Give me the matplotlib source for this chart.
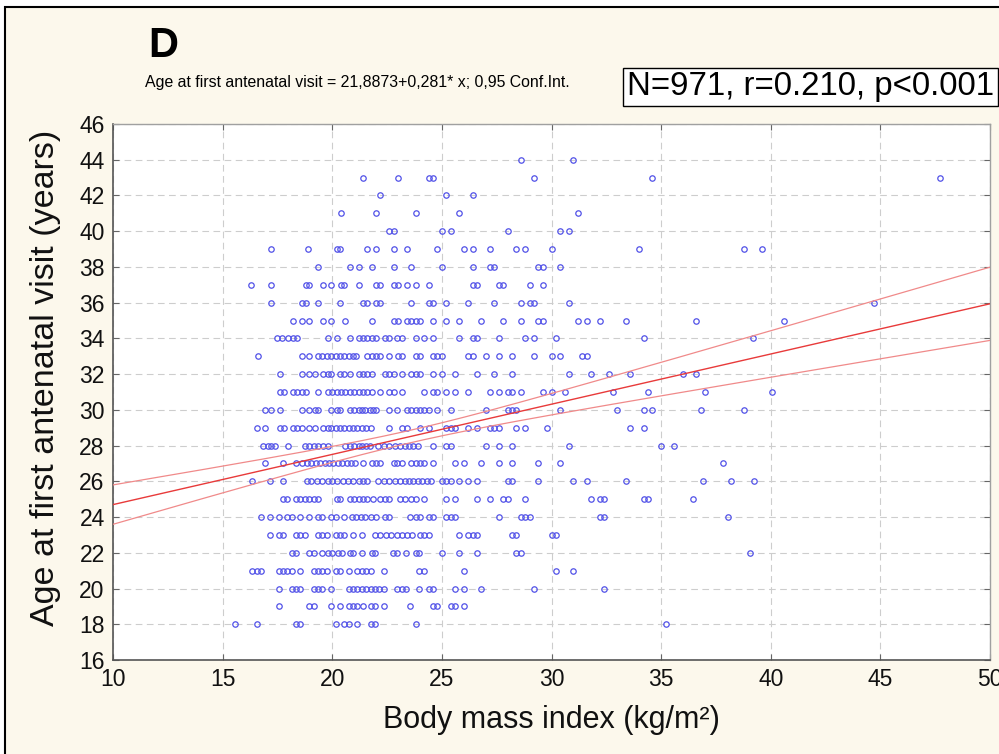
import numpy as np
import matplotlib
matplotlib.use("Agg")
import matplotlib.pyplot as plt
from matplotlib import font_manager
from matplotlib.patches import Rectangle

# ---------------- data ----------------
bmi_age18 = [15.55, 16.55, 18.35, 18.55, 20.15, 20.55, 20.75, 21.15, 21.75, 21.95, 23.8, 35.2]
bmi_age19 = [17.55, 18.95, 19.15, 19.95, 20.35, 20.75, 20.95, 21.15, 21.4, 21.75, 21.95, 22.35, 23.55,
             24.6, 24.8, 25.4, 25.6, 26.0]
bmi_age20 = [17.55, 18.15, 18.35, 18.55, 19.15, 19.35, 19.55, 19.95, 20.75, 20.95, 21.15, 21.35, 21.55,
             21.75, 21.95, 22.15, 22.35, 22.95, 23.2, 23.35, 23.95, 24.4, 24.6, 25.6, 26.0, 26.8, 29.2, 32.4]
bmi_age21 = [16.35, 16.55, 16.75, 17.55, 17.75, 17.95, 18.15, 18.55, 19.15, 19.35, 19.55, 19.75, 20.15,
             20.35, 20.75, 21.15, 21.35, 21.55, 21.75, 22.35, 23.95, 24.2, 26.0, 30.2, 31.0]
bmi_age22 = [18.15, 18.35, 18.95, 19.15, 19.55, 19.8, 20.0, 20.25, 20.45, 20.8, 20.95, 21.35, 21.8, 21.95,
             22.75, 22.95, 23.35, 23.8, 23.95, 25.0, 25.8, 26.6, 28.4, 28.6, 39.05]
bmi_age23 = [17.15, 17.55, 17.75, 18.35, 18.55, 18.75, 19.35, 19.55, 19.75, 20.15, 20.35, 20.55, 20.95,
             21.35, 21.95, 22.2, 22.45, 22.7, 22.95, 23.2, 23.4, 23.65, 24.0, 24.2, 24.4, 25.8, 26.2, 26.4,
             26.6, 28.2, 28.4, 30.0, 30.2]
bmi_age24 = [16.75, 17.15, 17.55, 17.95, 18.15, 18.55, 18.95, 19.35, 19.55, 19.95, 20.15, 20.55, 20.9,
             21.1, 21.3, 21.5, 21.75, 22.0, 22.4, 22.6, 23.55, 23.8, 24.0, 24.4, 24.6, 25.2, 25.4, 25.6,
             27.6, 28.6, 28.8, 29.0, 32.2, 32.4, 38.05]
bmi_age25 = [17.75, 17.95, 18.35, 18.55, 18.75, 18.95, 19.15, 19.35, 20.2, 20.35, 20.8, 21.0, 21.2, 21.4,
             21.6, 21.85, 22.2, 22.4, 22.6, 23.1, 23.3, 23.6, 23.8, 24.2, 25.2, 25.6, 26.6, 27.2, 27.8,
             28.0, 28.8, 31.8, 32.2, 32.4, 34.2, 34.4, 36.45]
bmi_age26 = [16.35, 17.15, 17.75, 18.85, 19.05, 19.3, 19.55, 19.8, 20.0, 20.2, 20.5, 20.7, 20.95, 21.2,
             21.4, 21.6, 22.1, 22.35, 22.6, 22.85, 23.1, 23.3, 23.5, 23.7, 23.9, 24.1, 24.3, 24.5, 25.0,
             25.2, 25.4, 25.8, 26.2, 26.6, 28.0, 28.2, 29.4, 31.0, 31.6, 33.4, 36.9, 38.2, 39.25]
bmi_age27 = [16.95, 17.75, 18.35, 18.6, 18.85, 19.05, 19.25, 19.45, 19.65, 19.85, 20.05, 20.25, 20.45,
             20.65, 20.85, 21.05, 21.4, 21.8, 22.0, 22.2, 22.8, 22.95, 23.2, 23.6, 23.8, 24.0, 24.2, 24.6,
             25.6, 26.0, 26.8, 27.6, 28.2, 29.4, 30.4, 37.8]
bmi_age28 = [16.85, 17.05, 17.2, 17.4, 18.0, 18.75, 18.95, 19.15, 19.35, 19.6, 19.8, 20.6, 20.8, 21.0,
             21.2, 21.35, 21.55, 21.7, 22.1, 22.35, 22.6, 22.85, 23.1, 23.3, 23.5, 23.7, 23.9, 24.6, 25.2,
             25.4, 27.0, 27.6, 28.2, 30.8, 35.0, 35.6]
bmi_age29 = [16.55, 16.95, 17.6, 17.8, 18.2, 18.4, 18.6, 18.95, 19.2, 19.6, 19.8, 19.95, 20.15, 20.35,
             20.55, 20.75, 20.95, 21.15, 21.35, 21.55, 21.75, 22.6, 23.2, 23.4, 24.0, 24.4, 25.2, 25.4,
             25.6, 26.2, 26.6, 27.2, 27.4, 27.6, 28.4, 28.8, 29.8, 33.6, 34.2]
bmi_age30 = [16.95, 17.2, 17.6, 18.6, 18.95, 19.2, 19.35, 19.95, 20.2, 20.35, 20.8, 21.0, 21.2, 21.35,
             21.5, 21.7, 21.85, 22.0, 22.6, 22.95, 23.4, 23.6, 23.8, 24.0, 24.2, 24.4, 24.8, 25.4, 27.0,
             28.0, 28.2, 28.4, 30.4, 33.0, 34.2, 34.6, 36.8, 38.8]
bmi_age31 = [17.6, 17.8, 18.2, 18.4, 18.6, 18.8, 19.35, 19.8, 20.0, 20.2, 20.4, 20.6, 20.8, 21.0, 21.2,
             21.4, 21.6, 21.8, 22.2, 22.6, 22.8, 23.2, 24.2, 24.6, 24.8, 25.2, 25.6, 26.2, 27.2, 27.6,
             28.0, 28.2, 28.6, 29.6, 30.0, 30.6, 32.8, 34.4, 37.0, 40.05]
bmi_age32 = [17.6, 18.6, 18.95, 19.2, 19.6, 19.8, 19.95, 20.35, 20.55, 20.8, 21.2, 21.4, 21.6, 21.8, 22.4,
             22.6, 22.8, 23.2, 23.6, 23.8, 24.0, 24.6, 25.0, 25.6, 26.6, 27.4, 28.2, 30.8, 31.8, 32.6,
             33.6, 36.0, 36.6]
bmi_age33 = [16.6, 18.6, 18.95, 19.35, 19.55, 19.75, 19.95, 20.15, 20.35, 20.55, 20.75, 20.95, 21.1, 21.6,
             21.8, 22.0, 22.2, 22.6, 23.0, 23.2, 23.8, 24.0, 24.6, 24.8, 25.0, 26.2, 26.4, 27.0, 27.6,
             28.2, 29.2, 30.0, 30.4, 31.4, 31.6]
bmi_age34 = [17.5, 17.7, 18.0, 18.2, 18.4, 19.8, 20.2, 20.8, 21.2, 21.4, 21.6, 21.8, 22.0, 22.4, 22.6,
             22.95, 23.2, 23.8, 24.2, 24.6, 25.8, 26.4, 26.6, 27.6, 28.8, 29.2, 30.2, 34.2, 39.2]
bmi_age35 = [18.2, 18.6, 18.95, 19.6, 19.95, 20.6, 21.8, 22.8, 23.0, 23.4, 23.6, 23.8, 24.0, 24.6, 25.2,
             25.8, 26.8, 27.8, 28.6, 29.4, 29.6, 31.2, 31.6, 32.2, 33.4, 36.6, 40.6]
bmi_age36 = [17.2, 18.6, 18.8, 19.35, 20.35, 21.4, 21.6, 22.0, 22.2, 23.6, 24.4, 24.6, 25.2, 26.2, 27.4,
             28.6, 29.0, 29.2, 30.8, 44.7]
bmi_age37 = [16.3, 17.2, 18.8, 18.95, 19.6, 19.95, 20.4, 20.55, 21.2, 22.0, 22.2, 22.8, 23.0, 23.4, 23.8,
             24.4, 26.4, 26.6, 27.6, 27.8, 29.0, 29.6]
bmi_age38 = [19.35, 20.8, 21.2, 21.8, 22.8, 23.6, 25.0, 26.4, 27.2, 27.4, 29.4, 29.6, 30.4]
bmi_age39 = [17.2, 18.9, 20.2, 20.35, 21.6, 22.0, 22.8, 23.4, 24.8, 26.0, 26.4, 27.2, 28.4, 28.8, 30.0,
             34.0, 38.8, 39.6]
bmi_age40 = [22.6, 22.8, 25.0, 25.4, 28.0, 30.4, 30.8]
bmi_age41 = [20.4, 22.0, 23.8, 25.8, 31.2]
bmi_age42 = [22.2, 25.2, 26.4]
bmi_age43 = [21.4, 23.0, 24.4, 24.6, 29.2, 34.6, 47.7]
bmi_age44 = [28.6, 31.0]

ages = list(range(18, 45))
bmi_rows = [bmi_age18, bmi_age19, bmi_age20, bmi_age21, bmi_age22, bmi_age23, bmi_age24, bmi_age25,
            bmi_age26, bmi_age27, bmi_age28, bmi_age29, bmi_age30, bmi_age31, bmi_age32, bmi_age33,
            bmi_age34, bmi_age35, bmi_age36, bmi_age37, bmi_age38, bmi_age39, bmi_age40, bmi_age41,
            bmi_age42, bmi_age43, bmi_age44]

# regression (from the chart text) and confidence band half-widths read at the edges
fit_intercept = 21.8873
fit_slope = 0.281
ci_half_min = 0.35      # half-width at mean BMI
ci_half_at_50 = 2.05    # half-width at BMI = 50

x_ticks = [10, 15, 20, 25, 30, 35, 40, 45, 50]
y_ticks = list(range(16, 47, 2))

title_letter = "D"
equation_text = "Age at first antenatal visit = 21,8873+0,281* x; 0,95 Conf.Int."
stats_text = "N=971, r=0.210, p<0.001"
x_label = "Body mass index (kg/m²)"
y_label = "Age at first antenatal visit (years)"

# ---------------- fonts ----------------
names = {f.name for f in font_manager.fontManager.ttflist}
regular = "Liberation Sans" if "Liberation Sans" in names else "DejaVu Sans"
narrow = "Liberation Sans Narrow" if "Liberation Sans Narrow" in names else None
plt.rcParams["font.family"] = [regular, "DejaVu Sans"]

# ---------------- figure ----------------
W, H = 999, 754
fig = plt.figure(figsize=(W / 100, H / 100), dpi=100, facecolor="white")
bg = Rectangle((5 / W, -0.1), 1.2, (H - 7) / H + 0.1, transform=fig.transFigure,
               facecolor="#fcf8ec", edgecolor="black", lw=1.5, zorder=-10)
fig.patches.append(bg)

ax = fig.add_axes([113 / W, (H - 660) / H, 877 / W, 536 / H])
ax.set_facecolor("white")

bmi_all = np.concatenate([np.asarray(r, float) for r in bmi_rows])
age_all = np.concatenate([np.full(len(r), a, float) for r, a in zip(bmi_rows, ages)])

ax.plot(bmi_all, age_all, "o", mfc="none", mec="#5252e8", ms=3.9, mew=0.9, zorder=3, clip_on=False)

xs = np.linspace(10, 50, 300)
fit = fit_intercept + fit_slope * xs
xbar = bmi_all.mean()
b2 = (ci_half_at_50 ** 2 - ci_half_min ** 2) / (50 - xbar) ** 2
half = np.sqrt(ci_half_min ** 2 + b2 * (xs - xbar) ** 2)
ax.plot(xs, fit, color="#e83a3a", lw=1.0, zorder=4)
ax.plot(xs, fit + half, color="#f08a8a", lw=0.9, zorder=4)
ax.plot(xs, fit - half, color="#f08a8a", lw=0.9, zorder=4)

ax.set_xlim(10, 50)
ax.set_ylim(16, 46)
ax.set_xticks(x_ticks)
ax.set_yticks(y_ticks)
ax.grid(True, linestyle=(0, (6, 4)), color="#cdcdcd", lw=0.8, zorder=0)
ax.set_axisbelow(True)

for s in ["left", "bottom"]:
    ax.spines[s].set_color("#555555")
    ax.spines[s].set_linewidth(1.2)
for s in ["top", "right"]:
    ax.spines[s].set_color("#a0a0a0")
    ax.spines[s].set_linewidth(1.0)

ax.tick_params(direction="in", length=4, color="#666666", top=True, right=True, pad=6)
tick_font = narrow if narrow else regular
tick_size = 19 if narrow else 16.5
for lab in ax.get_xticklabels() + ax.get_yticklabels():
    lab.set_fontfamily([tick_font, "DejaVu Sans"])
    lab.set_fontsize(tick_size)
    lab.set_color("#111111")

ax.set_ylabel(y_label, fontsize=24.5, family=[regular, "DejaVu Sans"], color="#111111",
              va="center")
ax.yaxis.set_label_coords(-(113 - 46) / 877, 0.5 + 14 / 536)
ax.set_xlabel(x_label, fontsize=26 if narrow else 22, family=[tick_font, "DejaVu Sans"], color="#111111")
ax.xaxis.set_label_coords(0.5, -(720 - 660) / 536)
ax.xaxis.label.set_va("center")

fig.text(148 / W, 1 - 46 / H, title_letter, fontsize=30, fontweight="bold",
         family=[regular, "DejaVu Sans"], va="center", ha="left")
fig.text(145 / W, 1 - 82 / H, equation_text, fontsize=12.5 if narrow else 11.4,
         family=[tick_font, "DejaVu Sans"], va="center", ha="left")
fig.text(627 / W, 1 - 87 / H, stats_text, fontsize=23.8, family=[regular, "DejaVu Sans"],
         va="center", ha="left",
         bbox=dict(boxstyle="square,pad=0.12", facecolor="white", edgecolor="black", lw=1.0))

fig.savefig("out.png", dpi=100, facecolor=fig.get_facecolor())
